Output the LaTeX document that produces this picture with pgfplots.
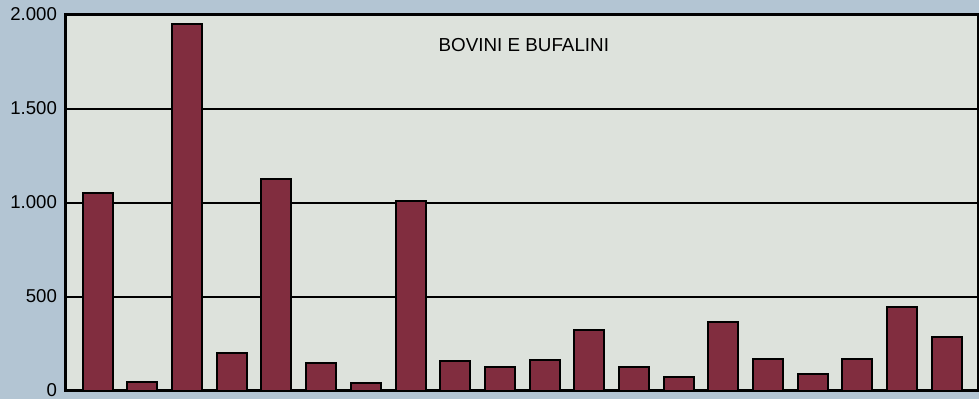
\documentclass[border=0pt]{standalone}
\usepackage{pgfplots}
\pgfplotsset{compat=1.18}
\usepackage{fontspec}
\setmainfont{Liberation Sans}
\usetikzlibrary{backgrounds}
\definecolor{bgblue}{HTML}{B3C5D3}
\definecolor{plotgray}{HTML}{DDE2DC}
\definecolor{barred}{HTML}{812D3F}
\begin{document}
\begin{tikzpicture}
\begin{axis}[
    scale only axis,
    width=456pt, height=188pt,
    xmin=0.29, xmax=20.7,
    ymin=0, ymax=2000,
    xtick=\empty,
    ytick={0,500,1000,1500,2000},
    ymajorgrids,
    grid style={black, line width=1pt},
    axis line style={black, line width=1.5pt},
    major tick length=0pt,
    axis background/.style={fill=plotgray},
    tick label style={font=\fontsize{9.3}{10}\selectfont},
    /pgf/number format/assume math mode=true,
    /pgf/number format/1000 sep={.},
    yticklabel style={xshift=-1pt, yshift=0.6pt},
    ybar, bar width=15pt,
    clip=false,
]
\addplot[fill=barred, draw=black, line width=1pt] coordinates {
    (1,1055) (2,48) (3,1952) (4,202) (5,1125)
    (6,148) (7,42) (8,1013) (9,160) (10,128)
    (11,164) (12,324) (13,127) (14,74) (15,366)
    (16,170) (17,90) (18,170) (19,446) (20,286)
};
\node[font=\fontsize{9.4}{10}\selectfont] at (rel axis cs:0.502,0.92) {BOVINI E BUFALINI};
\coordinate (sw) at (rel axis cs:0,0);
\coordinate (ne) at (rel axis cs:1,1);
\end{axis}
\begin{scope}[on background layer]
\fill[bgblue] ([xshift=-33pt,yshift=-4pt]sw) rectangle ([xshift=0.5pt,yshift=7.5pt]ne);
\end{scope}
\pgfresetboundingbox
\useasboundingbox ([xshift=-33pt,yshift=-4pt]sw) rectangle ([xshift=0.5pt,yshift=7.5pt]ne);
\end{tikzpicture}
\end{document}
